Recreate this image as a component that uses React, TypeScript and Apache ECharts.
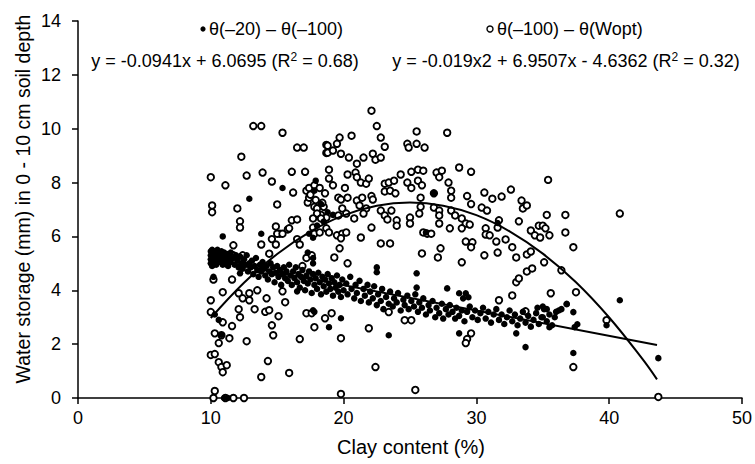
import React, { useEffect, useRef } from 'react';
import * as echarts from 'echarts';

const FONT = '"Liberation Sans", Arial, sans-serif';

const xTickValues = [0, 10, 20, 30, 40, 50];
const yTickValues = [0, 2, 4, 6, 8, 10, 12, 14];

const legendLabels = ['θ(–20) – θ(–100)', 'θ(–100) – θ(Wopt)'];
const equationLabels = [
  'y = -0.0941x + 6.0695 (R{sup|2} = 0.68)',
  'y = -0.019x2 + 6.9507x - 4.6362 (R{sup|2} = 0.32)',
];

// θ(–100) – θ(Wopt): open circles
const openPoints: [number, number][] = [
  [13.2, 10.1], [13.8, 10.1], [15.4, 9.85], [16.5, 9.3], [17.0, 9.3], [18.7, 9.4], [18.7, 9.1], [12.3, 8.96],
  [10.0, 8.2], [11.1, 7.9], [12.7, 8.26], [13.9, 8.37], [14.6, 8.04], [16.1, 8.4], [17.1, 8.4], [16.2, 7.63],
  [10.1, 7.15], [10.1, 6.9], [12.0, 7.04], [15.0, 7.19], [12.2, 6.56], [12.2, 6.33], [14.9, 6.37], [16.1, 6.6],
  [16.5, 6.63], [15.2, 6.1], [15.8, 6.26], [14.6, 5.9], [14.9, 5.7], [11.7, 5.67], [13.8, 5.7], [10.2, 4.4],
  [11.6, 4.4], [10.9, 3.93], [10.0, 3.63], [12.1, 3.89], [12.4, 3.7], [12.9, 3.89], [12.9, 3.63], [13.5, 4.0],
  [14.2, 3.7], [15.4, 3.96], [15.6, 3.56], [12.1, 3.3], [12.2, 3.0], [13.3, 3.3], [14.1, 3.2], [14.4, 3.26],
  [15.1, 3.04], [10.0, 3.19], [10.9, 2.81], [11.6, 2.67], [10.3, 2.4], [10.8, 2.33], [10.6, 2.04], [11.4, 2.22],
  [12.7, 2.11], [14.6, 2.7], [14.7, 2.33], [16.7, 2.19], [17.2, 3.15], [17.8, 2.63], [18.6, 2.96], [10.0, 1.6],
  [10.3, 1.63], [10.6, 1.33], [10.8, 1.15], [11.2, 1.22], [10.9, 0.96], [14.3, 1.37], [13.8, 0.78], [15.9, 0.93],
  [10.3, 0.26], [10.2, 0], [11.1, 0], [11.7, 0], [12.5, 0],
  [15.0, 6.1], [15.4, 6.1], [15.9, 6.3], [14.4, 5.36], [17.2, 5.2], [17.6, 5.3], [16.9, 4.9], [11.7, 5.3],
  [12.4, 5.3], [16.5, 5.9], [16.7, 5.7], [17.7, 6.33], [17.8, 6.1], [18.2, 6.15], [18.3, 6.8], [18.7, 6.7],
  [17.2, 7.7], [17.4, 7.8], [17.8, 7.9], [17.3, 7.26], [17.4, 7.44], [17.8, 7.1], [18.0, 7.04], [18.5, 7.1],
  [18.7, 6.3], [17.6, 3.15], [17.5, 7.55], [17.9, 7.35], [18.2, 7.8], [18.4, 7.25], [18.6, 7.6], [18.0, 6.85],
  [17.7, 6.67], [18.3, 6.67],
  [22.1, 10.67], [22.5, 10.1], [25.5, 9.9], [27.8, 9.85], [20.6, 9.74], [19.7, 9.67], [19.5, 9.44], [18.8, 9.37],
  [18.8, 9.11], [19.2, 9.19], [19.8, 9.07], [22.8, 9.67], [23.1, 9.33], [24.8, 9.44], [24.9, 9.3], [25.5, 9.44],
  [26.1, 9.3], [20.4, 8.93], [21.0, 8.7], [21.5, 8.93], [22.2, 9.07], [22.4, 8.85], [22.8, 8.93], [18.9, 8.48],
  [18.9, 8.15], [19.2, 7.9], [20.3, 8.3], [20.9, 8.37], [21.0, 8.2], [21.3, 8.0], [21.7, 7.96], [21.9, 8.15],
  [23.1, 7.96], [23.4, 8.0], [23.8, 8.07], [24.3, 8.3], [25.1, 8.4], [25.6, 8.48], [26.0, 8.44], [24.8, 8.0],
  [25.1, 7.8], [25.6, 8.07], [25.9, 7.9], [27.0, 8.37], [27.4, 8.44], [27.2, 8.2], [27.9, 8.0], [28.1, 7.7],
  [20.1, 7.8], [19.6, 7.44], [20.3, 7.44], [19.8, 7.37], [21.0, 7.33], [21.4, 7.44], [22.1, 7.5], [22.2, 7.37],
  [23.1, 7.67], [23.5, 7.7], [23.9, 7.6], [26.8, 7.6], [25.8, 7.44], [21.2, 7.15], [21.7, 7.04], [22.8, 6.96],
  [23.6, 6.96], [19.9, 7.04], [20.2, 6.85], [19.6, 6.78], [20.8, 6.67], [21.5, 6.85], [22.1, 6.33], [23.1, 6.78],
  [23.3, 6.63], [24.0, 6.6], [24.0, 6.4], [25.0, 6.7], [25.0, 6.48], [25.7, 6.85], [25.8, 7.1], [26.8, 7.07],
  [27.2, 6.96], [27.2, 6.78], [27.2, 6.48], [28.1, 6.96], [28.0, 6.3], [18.9, 6.15], [19.5, 6.04], [19.9, 6.1],
  [20.2, 6.15], [19.8, 5.93], [21.3, 5.96], [22.8, 5.74], [23.5, 5.74], [26.0, 6.15], [26.3, 6.1], [26.6, 6.1],
  [19.7, 5.56], [19.3, 5.22], [20.3, 5.0], [25.9, 5.37], [27.3, 5.56], [27.1, 5.22], [19.1, 3.15], [21.9, 2.59],
  [19.8, 2.22], [23.4, 3.19], [24.6, 2.89], [25.1, 2.89], [22.4, 1.15], [19.8, 0.15], [25.4, 0.3],
  [28.7, 8.56], [29.6, 8.4], [35.4, 8.1], [28.1, 7.44], [29.3, 7.5], [29.6, 7.2], [30.6, 7.63], [31.2, 7.4],
  [31.9, 7.48], [32.6, 7.74], [33.4, 7.33], [33.5, 7.04], [33.8, 7.15], [30.4, 7.07], [30.8, 6.96], [28.4, 6.78],
  [28.9, 6.67], [29.2, 6.48], [29.5, 6.44], [28.9, 6.3], [30.7, 6.3], [30.7, 6.07], [31.0, 6.04], [31.6, 6.33],
  [31.7, 6.6], [33.2, 6.56], [34.1, 6.22], [34.4, 6.04], [34.8, 5.96], [34.7, 6.4], [35.0, 6.4], [35.2, 6.3],
  [35.5, 6.04], [35.3, 6.8], [36.7, 6.8], [36.7, 6.15], [37.3, 5.6], [29.2, 5.81], [29.7, 5.78], [29.6, 5.6],
  [31.5, 5.81], [32.2, 5.89], [32.7, 5.6], [31.6, 5.4], [33.0, 5.22], [33.8, 5.33], [34.1, 5.44], [30.6, 5.3],
  [28.9, 5.04], [35.1, 5.04], [33.8, 4.7], [34.2, 4.81], [36.4, 4.74], [33.0, 4.3], [33.2, 4.44], [37.5, 3.93],
  [32.7, 3.81], [35.6, 3.89], [31.7, 3.63], [33.7, 3.22], [29.6, 2.4], [29.3, 2.19], [29.2, 2.04], [37.3, 1.15],
  [40.8, 6.85], [39.8, 2.89], [43.7, 0.04],
];

// θ(–20) – θ(–100): filled dots
const filledPoints: [number, number][] = [
  [10.0, 5.45], [10.0, 5.3], [10.0, 5.15], [10.0, 5.0], [10.1, 5.5], [10.1, 5.35], [10.1, 5.2], [10.1, 4.9],
  [10.2, 5.4], [10.2, 5.25], [10.2, 5.1], [10.3, 5.45], [10.3, 5.3], [10.3, 5.05], [10.4, 5.35], [10.4, 5.2],
  [10.4, 4.95], [10.5, 5.5], [10.5, 5.3], [10.5, 5.1], [10.6, 5.4], [10.6, 5.2], [10.7, 5.3], [10.7, 5.05],
  [10.8, 5.45], [10.8, 5.15], [10.9, 5.3], [10.9, 4.95], [11.0, 5.4], [11.0, 5.2], [11.1, 5.05], [11.2, 5.35],
  [11.2, 5.15], [11.3, 4.9], [11.4, 5.25], [11.5, 5.05], [11.5, 5.4], [11.7, 5.2], [11.8, 4.95], [11.9, 5.3],
  [12.0, 5.1], [12.1, 4.85], [12.2, 5.25], [12.3, 5.0], [12.4, 4.8], [12.5, 5.15], [12.6, 4.95], [12.7, 5.3],
  [12.8, 4.7], [12.9, 5.0], [13.0, 4.85], [13.1, 5.1], [13.2, 4.6], [13.3, 4.9], [13.4, 5.2], [13.5, 4.75],
  [13.6, 4.5], [13.7, 4.95], [13.8, 4.7], [13.9, 5.05], [14.0, 4.8], [14.1, 4.55], [14.2, 4.9], [14.3, 4.4],
  [14.4, 4.7], [14.5, 5.0], [14.6, 4.6], [14.7, 4.85], [14.8, 4.3], [14.9, 4.65], [15.0, 4.9], [15.1, 4.5],
  [15.2, 4.75], [15.3, 4.2], [15.4, 4.6], [15.5, 4.85], [15.6, 4.45], [15.7, 4.7], [15.8, 4.35], [15.9, 4.95],
  [16.0, 4.55], [16.1, 4.2], [16.2, 4.7], [16.3, 4.45], [16.4, 4.85], [16.5, 4.3], [16.6, 4.6], [16.7, 4.1],
  [16.8, 4.5], [16.9, 4.75], [17.0, 4.35], [17.1, 4.0], [17.2, 4.55], [17.3, 4.25], [17.4, 4.7], [17.5, 4.4],
  [17.6, 3.9], [17.7, 4.6], [17.8, 4.2], [17.9, 4.45], [18.0, 4.05], [18.1, 4.65], [18.2, 4.3], [18.3, 3.85],
  [18.4, 4.5], [18.5, 4.15], [18.6, 4.4], [18.7, 3.95], [18.8, 4.6], [18.9, 4.25], [19.0, 4.05], [19.1, 4.45],
  [19.2, 3.8], [19.3, 4.3], [19.4, 4.1], [19.5, 4.55], [19.6, 3.95], [19.7, 4.2], [19.8, 3.75], [19.9, 4.4],
  [20.0, 4.0], [20.2, 4.25], [20.3, 3.85], [20.5, 4.5], [20.6, 4.05], [20.8, 3.7], [20.9, 4.2], [21.0, 3.9],
  [21.2, 4.35], [21.3, 3.6], [21.5, 4.05], [21.6, 3.8], [21.8, 4.2], [21.9, 3.55], [22.0, 3.95], [22.2, 3.7],
  [22.3, 4.15], [22.5, 3.45], [22.6, 3.85], [22.8, 3.6], [22.9, 4.05], [23.0, 3.3], [23.2, 3.75], [23.4, 3.5],
  [23.5, 3.95], [23.7, 3.4], [23.8, 3.7], [24.0, 3.55], [24.1, 3.9], [24.3, 3.25], [24.5, 3.65], [24.6, 3.45],
  [24.8, 3.8], [24.9, 3.3], [25.1, 3.6], [25.3, 3.4], [25.4, 3.85], [25.6, 3.2], [25.7, 3.55], [25.9, 3.35],
  [26.0, 3.7], [26.2, 3.1], [26.4, 3.45], [26.5, 3.25], [26.7, 3.6], [26.9, 3.0], [27.0, 3.35], [27.2, 3.15],
  [27.4, 3.5], [27.5, 2.95], [27.7, 3.3], [27.9, 3.1], [28.0, 3.45], [28.2, 3.2], [28.4, 2.95], [28.5, 3.35],
  [28.7, 3.05], [28.9, 3.25], [29.1, 2.85], [29.3, 3.2], [29.5, 3.4], [29.7, 3.0], [29.9, 3.25], [30.1, 2.9],
  [30.3, 3.15], [30.5, 3.35], [30.7, 2.95], [30.9, 3.2], [31.1, 2.8], [31.3, 3.1], [31.5, 3.3], [31.7, 2.9],
  [31.9, 3.1], [32.1, 2.75], [32.3, 3.0], [32.5, 3.25], [32.7, 2.85], [32.9, 3.1], [33.1, 2.7], [33.3, 2.95],
  [33.5, 3.2], [33.7, 2.8], [33.9, 3.05], [34.1, 2.65], [34.3, 2.9], [34.5, 3.15], [34.7, 2.75], [34.9, 3.0],
  [35.1, 3.3], [35.3, 2.85], [35.5, 3.1], [35.7, 2.7], [35.9, 3.0], [36.2, 3.25],
  [15.4, 7.8], [12.9, 7.4], [10.9, 6.0], [13.8, 6.1], [17.9, 8.07], [17.8, 7.7], [17.3, 5.4], [17.7, 5.2],
  [17.7, 5.0], [16.5, 3.96], [17.8, 3.2], [10.2, 4.5], [12.2, 4.63], [22.5, 4.85], [22.5, 4.67], [25.5, 4.63],
  [25.5, 4.1], [27.8, 4.07], [23.4, 2.33], [18.9, 2.63], [19.8, 2.96], [28.7, 2.4], [33.0, 2.4], [33.7, 1.89],
  [37.3, 1.67], [37.3, 3.19], [37.4, 2.63], [36.8, 3.5], [28.7, 3.89], [29.0, 3.7], [29.4, 3.74], [29.2, 3.89],
  [40.8, 3.63], [39.8, 2.7], [43.7, 1.48], [10.3, 3.1], [10.6, 2.9], [10.8, 2.35], [11.0, 0], [11.3, 0],
  [17.7, 3.26], [17.7, 5.95], [19.2, 6.8], [18.5, 6.55], [18.3, 7.2], [18.8, 6.9], [18.0, 6.4], [17.4, 6.1],
  [26.8, 7.6], [26.2, 6.15], [31.6, 6.5], [34.6, 3.35], [35.0, 3.4], [35.3, 3.3], [36.0, 3.2], [37.6, 2.74],
  [35.5, 2.63], [36.4, 3.3], [36.8, 3.48], [35.0, 3.0],
];

// trend lines
const linearX = [10, 43.6];
const linearY = [5.13, 1.97];
const curveX = [10, 12.5, 15, 17.5, 20, 22.5, 25, 27.5, 30, 32.5, 35, 37.5, 40, 42.5, 43.6];
const curveY = [2.97, 4.28, 5.35, 6.18, 6.78, 7.14, 7.26, 7.14, 6.79, 6.19, 5.36, 4.3, 2.99, 1.45, 0.69];

export default function App() {
  const ref = useRef<HTMLDivElement>(null);
  useEffect(() => {
    const chart = echarts.init(ref.current!, null, { renderer: 'svg' });
    const richSup = {
      sup: { fontSize: 12, fontFamily: FONT, color: '#000', verticalAlign: 'top', lineHeight: 20 },
    };
    chart.setOption({
      animation: false,
      backgroundColor: '#fff',
      grid: { left: 78, right: 10, top: 21, bottom: 66 },
      xAxis: {
        type: 'value',
        min: xTickValues[0],
        max: xTickValues[xTickValues.length - 1],
        interval: 10,
        splitLine: { show: false },
        axisLine: { lineStyle: { color: '#000', width: 1.5 } },
        axisTick: { show: true, length: 6, lineStyle: { color: '#000', width: 1.5 } },
        axisLabel: { color: '#000', fontSize: 18, fontFamily: FONT, margin: 11 },
      },
      yAxis: {
        type: 'value',
        min: yTickValues[0],
        max: yTickValues[yTickValues.length - 1],
        interval: 2,
        splitLine: { show: false },
        axisLine: { show: true, lineStyle: { color: '#000', width: 1.5 } },
        axisTick: { show: true, length: 6, lineStyle: { color: '#000', width: 1.5 } },
        axisLabel: { color: '#000', fontSize: 18, fontFamily: FONT, margin: 17 },
      },
      series: [
        {
          type: 'scatter',
          name: legendLabels[1],
          data: openPoints,
          symbol: 'circle',
          symbolSize: 6.5,
          itemStyle: { color: '#fff', borderColor: '#000', borderWidth: 1.9, opacity: 1 },
          z: 2,
        },
        {
          type: 'scatter',
          name: legendLabels[0],
          data: filledPoints,
          symbol: 'circle',
          symbolSize: 6.5,
          itemStyle: { color: '#000', opacity: 1 },
          z: 3,
        },
        {
          type: 'line',
          data: curveX.map((x, i) => [x, curveY[i]]),
          smooth: 0.4,
          showSymbol: false,
          lineStyle: { color: '#000', width: 2 },
          z: 4,
        },
        {
          type: 'line',
          data: linearX.map((x, i) => [x, linearY[i]]),
          showSymbol: false,
          lineStyle: { color: '#000', width: 2 },
          z: 4,
        },
      ],
      graphic: [
        { type: 'circle', shape: { cx: 203, cy: 29, r: 2.6 }, style: { fill: '#000' } },
        {
          type: 'text', x: 209, y: 29,
          style: { text: legendLabels[0], font: `18px ${FONT}`, fill: '#000', verticalAlign: 'middle', align: 'left' },
        },
        { type: 'circle', shape: { cx: 490, cy: 29, r: 3 }, style: { fill: '#fff', stroke: '#000', lineWidth: 1.4 } },
        {
          type: 'text', x: 497, y: 29,
          style: { text: legendLabels[1], font: `18px ${FONT}`, fill: '#000', verticalAlign: 'middle', align: 'left' },
        },
        {
          type: 'text', x: 225, y: 61,
          style: {
            text: equationLabels[0], fontSize: 18, fontFamily: FONT, fill: '#000', lineHeight: 20,
            align: 'center', verticalAlign: 'middle', rich: richSup,
          },
        },
        {
          type: 'text', x: 566, y: 61,
          style: {
            text: equationLabels[1], fontSize: 18, fontFamily: FONT, fill: '#000', lineHeight: 20,
            align: 'center', verticalAlign: 'middle', rich: richSup,
          },
        },
        {
          type: 'text', x: 411, y: 447,
          style: { text: 'Clay content (%)', font: `20px ${FONT}`, fill: '#000', align: 'center', verticalAlign: 'middle' },
        },
        {
          type: 'text', x: 23, y: 199, rotation: Math.PI / 2,
          style: {
            text: 'Water storage (mm) in 0 - 10 cm soil depth', font: `19.5px ${FONT}`, fill: '#000',
            align: 'center', verticalAlign: 'middle',
          },
        },
      ],
    });
    return () => chart.dispose();
  }, []);
  return <div ref={ref} style={{ position: 'fixed', left: 0, top: 0, width: 755, height: 464 }} />;
}
